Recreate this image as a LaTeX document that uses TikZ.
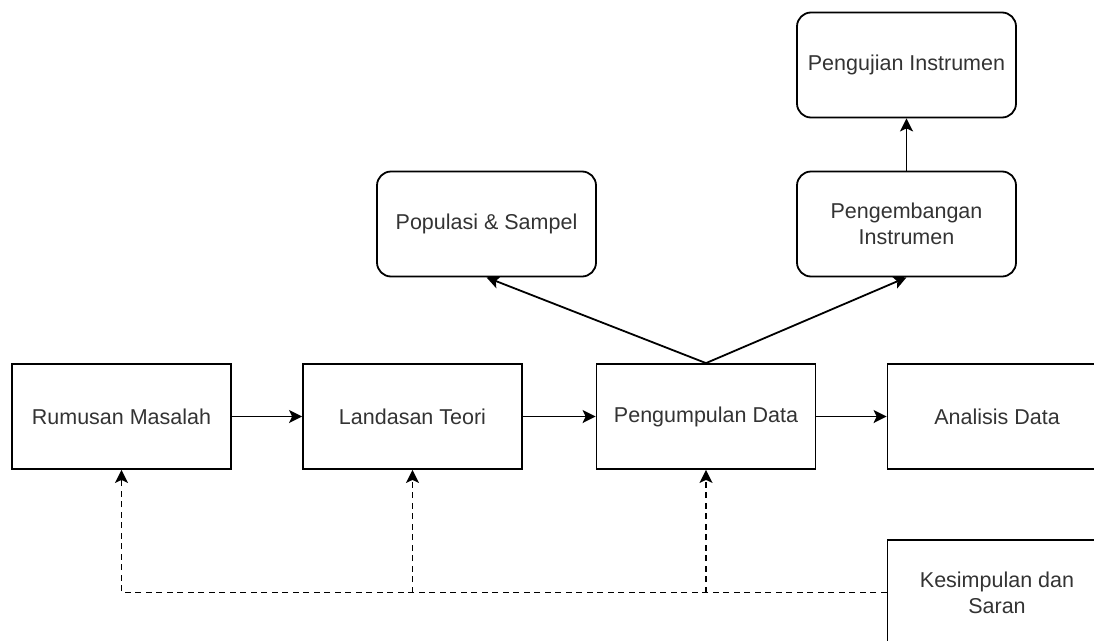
\documentclass[tikz,border=0pt]{standalone}
\usepackage{fontspec}
\setmainfont{Liberation Sans}
\usetikzlibrary{arrows.meta}
\definecolor{txt}{HTML}{333333}
\begin{document}
\begin{tikzpicture}[x=1pt,y=-1pt,
  box/.style={draw=black,line width=1.8pt,minimum width=219pt,minimum height=105pt,inner sep=0pt,
    align=center,text=txt,font=\fontsize{21.5}{26}\selectfont},
  rbox/.style={box,rounded corners=14pt},
  conn/.style={line width=1.8pt,-{Stealth[length=13pt,width=13pt,inset=3pt]}},
  fb/.style={conn,dash pattern=on 6pt off 4.5pt}]
\useasboundingbox (0,0) rectangle (1094,640);
\clip (0,0) rectangle (1094,640);
\node[box] (rum) at (121.5,416.5) {Rumusan Masalah};
\node[box] (lan) at (412.5,416.5) {Landasan Teori};
\node[box] (pen) at (706,416.5) {Pengumpulan Data};
\node[box] (ana) at (997,416.5) {Analisis Data};
\node[box] (kes) at (997,592.5) {Kesimpulan dan\\Saran};
\node[rbox] (pop) at (486.5,224) {Populasi \& Sampel};
\node[rbox] (pgb) at (906.5,224) {Pengembangan\\Instrumen};
\node[rbox] (pgj) at (906.5,65) {Pengujian Instrumen};
\draw[conn] (rum) -- (lan);
\draw[conn] (lan) -- (pen);
\draw[conn] (pen) -- (ana);
\draw[conn] (pen.north) -- (pop.south);
\draw[conn] (pen.north) -- (pgb.south);
\draw[conn] (pgb) -- (pgj);
\draw[fb] (kes.west) -- (rum.south |- kes.west) -- (rum.south);
\draw[fb] (lan.south |- kes.west) -- (lan.south);
\draw[fb] (pen.south |- kes.west) -- (pen.south);
\end{tikzpicture}
\end{document}
